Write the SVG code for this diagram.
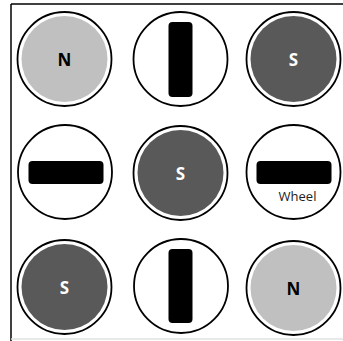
<svg xmlns="http://www.w3.org/2000/svg" width="343" height="341" viewBox="0 0 343 341">
<style>
.ring{fill:#fff;stroke:#000;stroke-width:1.8}
.n{fill:#c0c0c0}
.s{fill:#595959}
.bar{fill:#000}
.lbl{font-family:"Open Sans","Noto Sans",sans-serif;font-weight:bold;font-size:17px;text-anchor:middle}
.wh{font-family:"Open Sans","Noto Sans",sans-serif;font-size:13px;text-anchor:middle;fill:#222}
</style>
<rect width="343" height="341" fill="#fff"/>
<g id="frame">
<line x1="11" y1="4" x2="343" y2="4" stroke="#000" stroke-width="1.5"/>
<line x1="11" y1="4" x2="11" y2="341" stroke="#000" stroke-width="1.5"/>
<line x1="11" y1="339" x2="343" y2="339" stroke="#e2e2e2" stroke-width="1.5"/>
</g>
<g id="c11"><circle class="ring" cx="64.5" cy="59" r="47"/><circle class="n" cx="64.5" cy="59" r="43"/><text class="lbl" x="64.5" y="65.5" fill="#000">N</text></g>
<g id="c12"><circle class="ring" cx="180.5" cy="59" r="47"/><rect class="bar" x="168.5" y="22" width="24" height="75" rx="4"/></g>
<g id="c13"><circle class="ring" cx="293.5" cy="59" r="47"/><circle class="s" cx="293.5" cy="59" r="43"/><text class="lbl" x="293.5" y="65.5" fill="#fff">S</text></g>
<g id="c21"><circle class="ring" cx="65" cy="172" r="47"/><rect class="bar" x="28.5" y="161" width="75" height="23" rx="4"/></g>
<g id="c22"><circle class="ring" cx="180.5" cy="173" r="47"/><circle class="s" cx="180.5" cy="173" r="43"/><text class="lbl" x="180.5" y="179.5" fill="#fff">S</text></g>
<g id="c23"><circle class="ring" cx="293.5" cy="172" r="47"/><rect class="bar" x="256.5" y="161" width="75" height="23" rx="4"/><text class="wh" x="297.5" y="200.5">Wheel</text></g>
<g id="c31"><circle class="ring" cx="64.5" cy="287" r="47"/><circle class="s" cx="64.5" cy="287" r="43"/><text class="lbl" x="64.5" y="293.5" fill="#fff">S</text></g>
<g id="c32"><circle class="ring" cx="181" cy="286" r="47"/><rect class="bar" x="168.5" y="249" width="24" height="74" rx="4"/></g>
<g id="c33"><circle class="ring" cx="293.5" cy="288" r="47"/><circle class="n" cx="293.5" cy="288" r="43"/><text class="lbl" x="293.5" y="294.5" fill="#000">N</text></g>
</svg>
